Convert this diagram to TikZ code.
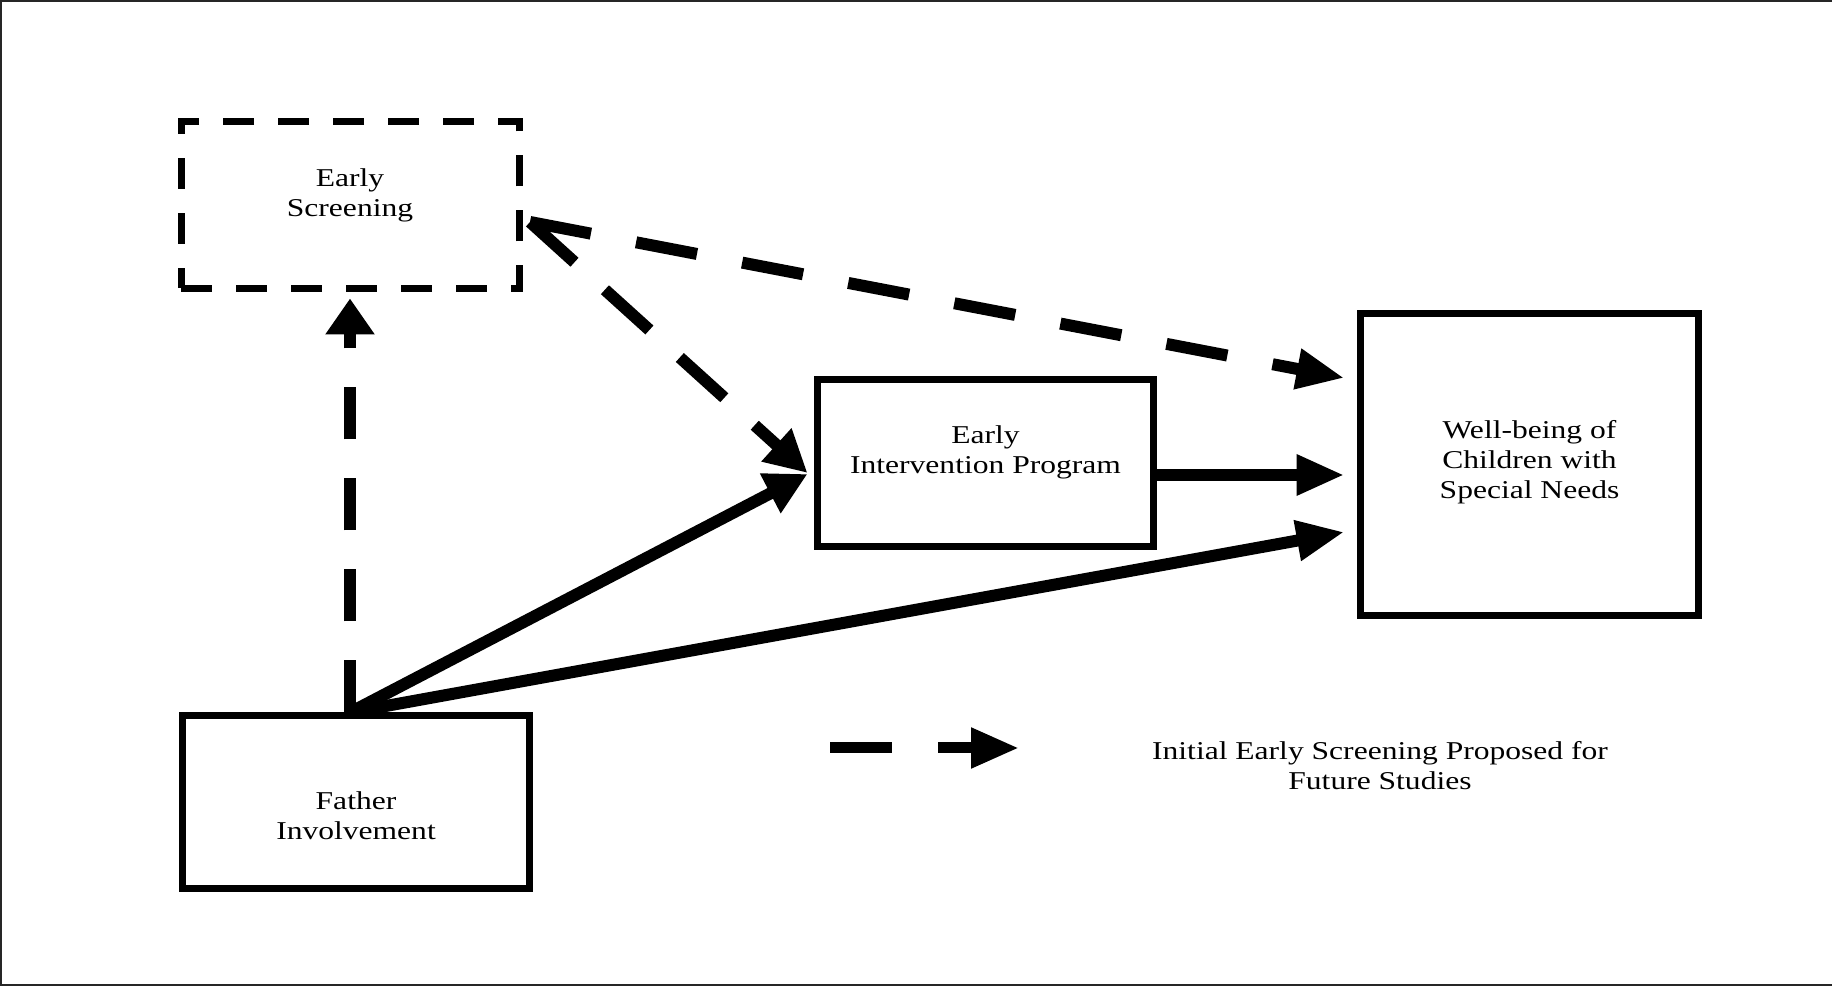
\documentclass[tikz,border=0pt]{standalone}
\usepackage{fontspec}
\setmainfont{Liberation Serif}[FakeStretch=1.23]
\usepackage{tikz}
\usetikzlibrary{arrows.meta, positioning, calc}

\begin{document}
\begin{tikzpicture}[
    >={Triangle[length=0.96cm, width=0.76cm]},
    box/.style={draw, line width=0.14cm, inner sep=0pt},
    dashbox/.style={box, dash pattern=on 0.62cm off 0.48cm},
    lbl/.style={align=center, inner sep=0pt, font=\fontsize{14.6}{17.1}\selectfont},
    link/.style={->, line width=0.24cm},
    future/.style={link, dash pattern=on 1.24cm off 0.92cm}]
  \useasboundingbox (0,0) rectangle (36.64,19.72);
  % page frame (no right side)
  \draw[line width=0.045cm, black!85] (36.64,19.70) -- (0.02,19.70) -- (0.02,0.02) -- (36.64,0.02);

  % Boxes
  \node[dashbox, minimum width=6.76cm, minimum height=3.34cm] (es) at (7.00,15.62) {};
  \node[lbl] (es-txt) at ([yshift=0.20cm]es.center) {Early\\Screening};
  \node[box, minimum width=6.94cm, minimum height=3.46cm] (fi) at (7.12,3.67) {};
  \node[lbl] (fi-txt) at ([yshift=-0.26cm]fi.center) {Father\\Involvement};
  \node[box, minimum width=6.72cm, minimum height=3.34cm] (eip) at (19.71,10.46) {};
  \node[lbl] (eip-txt) at ([yshift=0.21cm]eip.center) {Early\\Intervention Program};
  \node[box, minimum width=6.76cm, minimum height=6.04cm] (wb) at (30.59,10.42) {};
  \node[lbl] (wb-txt) at ([yshift=0.06cm]wb.center) {Well-being of\\Children with\\Special Needs};

  % Proposed paths (dashed)
  \draw[future, dash pattern=on 1.04cm off 0.78cm, >={Triangle[length=0.72cm, width=0.94cm]}]
    ([xshift=-0.12cm]fi.north) -- ([yshift=-0.13cm]es.south);
  \draw[future] ([shift={(0.15,-0.34)}]es.east) -- ([shift={(-0.25,1.74)}]wb.west);
  \draw[future, dash pattern=on 1.2cm off 0.82cm, >={Triangle[length=0.84cm, width=0.84cm]}]
    ([shift={(0.15,-0.34)}]es.east) -- ([shift={(-0.13,-0.20)}]eip.west);

  % Tested paths (solid)
  \draw[link, >={Triangle[length=0.84cm, width=0.84cm]}]
    ([xshift=-0.12cm]fi.north) -- ([shift={(-0.13,-0.22)}]eip.west);
  \draw[link] ([xshift=-0.12cm]fi.north) -- ([shift={(-0.25,-1.34)}]wb.west);
  \draw[link] ([yshift=-0.24cm]eip.east) -- ([shift={(-0.25,-0.20)}]wb.west);

  % Key
  \coordinate (key-a) at (16.60,4.76);
  \coordinate (key-b) at (20.38,4.76);
  \draw[future, line width=0.22cm] (key-a) -- (key-b);
  \node[lbl] (key-txt) at (27.60,4.40) {Initial Early Screening Proposed for\\Future Studies};
\end{tikzpicture}
\end{document}
